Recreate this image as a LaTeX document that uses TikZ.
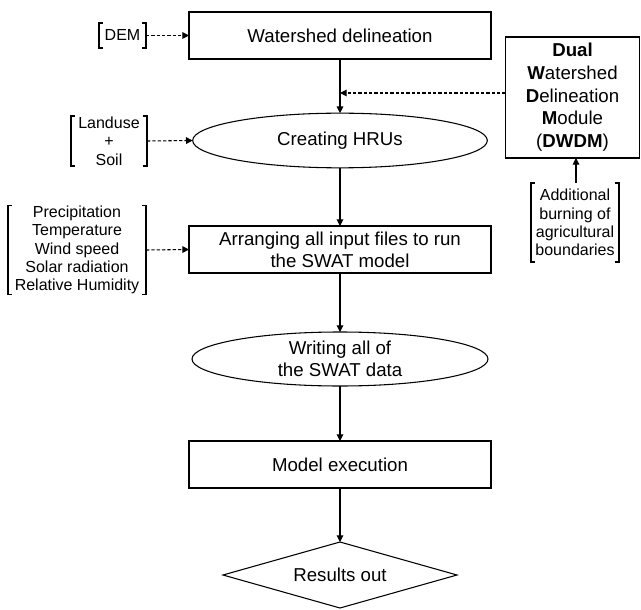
\documentclass[tikz,border=0pt]{standalone}
\usepackage{fontspec}
\setmainfont{Liberation Sans}
\usetikzlibrary{shapes.geometric,arrows.meta}
\newcommand{\brk}[1]{%
  \draw[brkline] ([xshift=3pt]#1.north west) -- (#1.north west) -- (#1.south west) -- ([xshift=3pt]#1.south west);
  \draw[brkline] ([xshift=-3pt]#1.north east) -- (#1.north east) -- (#1.south east) -- ([xshift=-3pt]#1.south east);}
\begin{document}
\begin{tikzpicture}[x=0.75pt,y=-0.75pt,
  every node/.style={inner sep=0pt, outer sep=0pt},
  mainfont/.style={font=\fontsize{14}{16.25}\selectfont},
  smallfont/.style={font=\fontsize{12}{13.75}\selectfont},
  procbox/.style={draw, line width=0.8pt, mainfont, align=center, minimum width=226.5pt, minimum height=35.25pt},
  procell/.style={draw, ellipse, line width=0.8pt, mainfont, align=center, minimum width=221pt, minimum height=41pt},
  brknode/.style={smallfont, align=center},
  brkline/.style={line width=0.8pt},
  flow/.style={line width=0.8pt, -{Triangle[length=5pt,width=5pt]}},
  dflow/.style={line width=0.8pt, dash pattern=on 2.5pt off 1.5pt, -{Triangle[length=5pt,width=5pt]}}
]
\useasboundingbox (0,0) rectangle (641,609);

% main flow
\node[procbox] (wd) at (340,35.5) {Watershed delineation};
\node[procell] (hru) at (340,140.5) {Creating HRUs};
\node[procbox] (arr) at (340,249.5) {Arranging all input files to run\\the SWAT model};
\node[procell, minimum width=222pt, minimum height=40.5pt] (wr) at (340,359) {Writing all of\\the SWAT data};
\node[procbox] (me) at (340,464.5) {Model execution};
\node[draw, diamond, aspect=3.55, line width=0.8pt, mainfont, minimum width=175.5pt, minimum height=49.5pt] (res) at (340,575) {Results out};

% DWDM box
\node[draw, line width=0.8pt, align=center, font=\fontsize{14}{17}\selectfont, minimum width=100.5pt, minimum height=90.75pt] (dwdm) at (572.5,97.5)
  {\textbf{Dual}\\\textbf{W}atershed\\\textbf{D}elineation\\\textbf{M}odule\\(\textbf{DWDM})};

% bracketed inputs
\node[brknode, minimum width=35.25pt, minimum height=18.75pt] (dem) at (122.5,35.5) {DEM};
\brk{dem}
\node[brknode, minimum width=57pt, minimum height=37.5pt] (lu) at (109,141) {Landuse\\+\\Soil};
\brk{lu}
\node[brknode, minimum width=103.5pt, minimum height=66pt] (clim) at (77,250) {Precipitation\\Temperature\\Wind speed\\Solar radiation\\Relative Humidity};
\brk{clim}
\node[brknode, minimum width=66pt, minimum height=59.25pt] (add) at (575,222.5) {Additional\\burning of\\agricultural\\boundaries};
\brk{add}

% connectors
\draw[flow] (wd.south) -- (hru.north);
\draw[flow] (hru.south) -- (arr.north);
\draw[flow] (arr.south) -- (wr.north);
\draw[flow] (wr.south) -- (me.north);
\draw[flow] (me.south) -- (res.north);

\draw[dflow] (dem.east) -- (wd.west);
\draw[dflow] (lu.east) -- (hru.west);
\draw[dflow] (clim.east) -- (arr.west);
\coordinate (j) at (340,93);
\draw[dflow] (dwdm.west |- j) -- (j);
\draw[flow] (add.north -| 576,0) -- (dwdm.south -| 576,0);
\end{tikzpicture}
\end{document}
